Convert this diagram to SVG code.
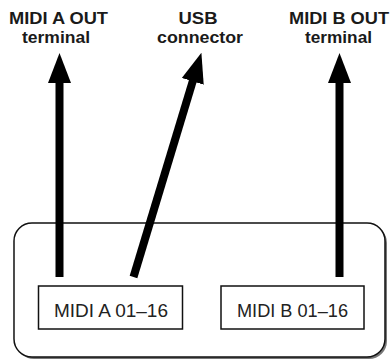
<svg xmlns="http://www.w3.org/2000/svg" width="390" height="360" viewBox="0 0 390 360">
<style>
.title{font-family:"Liberation Sans",Arial,sans-serif;font-weight:bold;font-size:16px;fill:#1a1a1a;text-anchor:middle}
.lbl{font-family:"Liberation Sans",Arial,sans-serif;font-size:18px;fill:#222;text-anchor:middle}
.box{fill:#fff;stroke:#111;stroke-width:1.5}
.arrow{stroke:#000;stroke-width:8;fill:none;marker-end:url(#head)}
</style>
<defs>
<marker id="head" viewBox="0 0 30 23" refX="1" refY="11.5" markerWidth="30" markerHeight="23" markerUnits="userSpaceOnUse" orient="auto">
<path d="M0,0 L30,11.5 L0,23 z" fill="#000"/>
</marker>
</defs>
<rect x="16" y="225" width="371" height="134" rx="18" fill="#777"/>
<g id="device">
<rect x="14" y="223" width="371" height="134" rx="18" class="box"/>
</g>
<g id="label-a-out">
<text class="title" x="58.5" y="24" textLength="99" lengthAdjust="spacingAndGlyphs">MIDI A OUT</text>
<text class="title" x="56" y="43" textLength="68" lengthAdjust="spacingAndGlyphs">terminal</text>
</g>
<g id="label-usb">
<text class="title" x="198" y="24" textLength="39" lengthAdjust="spacingAndGlyphs">USB</text>
<text class="title" x="200" y="43" textLength="86" lengthAdjust="spacingAndGlyphs">connector</text>
</g>
<g id="label-b-out">
<text class="title" x="339" y="24" textLength="100" lengthAdjust="spacingAndGlyphs">MIDI B OUT</text>
<text class="title" x="338.5" y="43" textLength="67" lengthAdjust="spacingAndGlyphs">terminal</text>
</g>
<g id="midi-a">
<rect x="38.5" y="286" width="144" height="43" class="box"/>
<text class="lbl" x="111" y="317" textLength="114" lengthAdjust="spacingAndGlyphs">MIDI A 01–16</text>
</g>
<g id="midi-b">
<rect x="221" y="286" width="143" height="43" class="box"/>
<text class="lbl" x="292.5" y="317" textLength="111" lengthAdjust="spacingAndGlyphs">MIDI B 01–16</text>
</g>
<g id="connectors">
<line class="arrow" x1="59.5" y1="277" x2="59.5" y2="82"/>
<line class="arrow" x1="133.5" y1="277" x2="193" y2="80.4"/>
<line class="arrow" x1="339.5" y1="277" x2="339.5" y2="82"/>
</g>
</svg>
